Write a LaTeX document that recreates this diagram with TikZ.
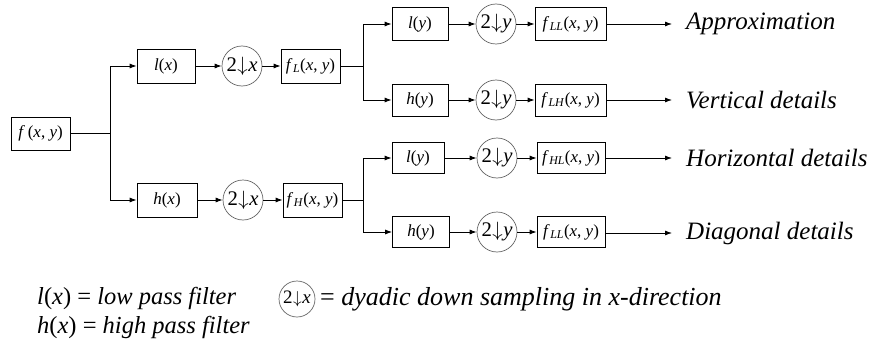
\documentclass[tikz,border=0pt]{standalone}
\usepackage{fontspec}
\setmainfont{Liberation Serif}
\usetikzlibrary{arrows.meta}
\newcommand\iv[1]{\textit{#1}}
\newcommand\fsub[1]{\iv{f}\kern0.5pt\textsubscript{\iv{#1}}(\iv{x}, \iv{y})}
\newcommand\dsx{2\kern0.5pt$\downarrow$\kern0.5pt\iv{x}}
\newcommand\dsy{2\kern0.5pt$\downarrow$\kern0.5pt\iv{y}}
\begin{document}
\begin{tikzpicture}[x=1pt,y=-1pt,
 box/.style={draw, line width=0.8pt, minimum height=33pt, inner sep=0pt, font=\fontsize{17}{19}\selectfont},
 dsamp/.style={circle, draw=black!60, line width=0.7pt, minimum size=40pt, inner sep=0pt, font=\fontsize{20.74}{22}\selectfont},
 conn/.style={line width=0.8pt, -{Latex[length=7pt,width=5pt]}},
 wire/.style={line width=0.8pt},
 lbl/.style={anchor=west, inner sep=0pt, font=\fontsize{25}{28}\selectfont\itshape},
 leg/.style={anchor=west, inner sep=0pt, font=\fontsize{24.5}{27}\selectfont},
]
\useasboundingbox (0,0) rectangle (869,353);
% stage 1
\node[box, minimum width=59pt] (fxy) at (40.5,133.5) {\iv{f}\,(\iv{x}, \iv{y})};
\node[box, minimum width=58pt, minimum height=34pt] (lx) at (166,66) {\iv{l}(\iv{x})};
\node[box, minimum width=60pt, minimum height=34pt] (hx) at (167,200) {\iv{h}(\iv{x})};
\node[dsamp] (cx1) at (242,66) {\dsx};
\node[dsamp] (cx2) at (243,200) {\dsx};
\node[box, minimum width=59pt, minimum height=34pt] (fL) at (310.5,66) {\fsub{L}};
\node[box, minimum width=59pt, minimum height=34pt] (fH) at (312.5,200) {\fsub{H}};
\coordinate (b0) at (110,133.5);
\draw[wire] (fxy.east) -- (b0);
\draw[conn] (b0) |- (lx.west);
\draw[conn] (b0) |- (hx.west);
\draw[conn] (lx) -- (cx1);
\draw[conn] (cx1) -- (fL);
\draw[conn] (hx) -- (cx2);
\draw[conn] (cx2) -- (fH);
% upper stage 2
\coordinate (b1) at (363,66);
\node[box, minimum width=56pt] (ly1) at (420,24) {\iv{l}(\iv{y})};
\node[box, minimum width=56pt, minimum height=32pt] (hy1) at (420,100) {\iv{h}(\iv{y})};
\node[dsamp] (cy1) at (496,24) {\dsy};
\node[dsamp] (cy2) at (496,100) {\dsy};
\node[box, minimum width=71pt] (fLL) at (570.5,24) {\fsub{LL}};
\node[box, minimum width=71pt, minimum height=32pt] (fLH) at (570.5,100) {\fsub{LH}};
\draw[wire] (fL.east) -- (b1);
\draw[conn] (b1) |- (ly1.west);
\draw[conn] (b1) |- (hy1.west);
\draw[conn] (ly1) -- (cy1);
\draw[conn] (cy1) -- (fLL);
\draw[conn] (hy1) -- (cy2);
\draw[conn] (cy2) -- (fLH);
% lower stage 2
\coordinate (b2) at (363,200);
\node[box, minimum width=52pt, minimum height=31pt] (ly2) at (418,158) {\iv{l}(\iv{y})};
\node[box, minimum width=57pt, minimum height=31pt] (hy2) at (421,232) {\iv{h}(\iv{y})};
\node[dsamp] (cy3) at (497,158) {\dsy};
\node[dsamp] (cy4) at (497,232) {\dsy};
\node[box, minimum width=68pt, minimum height=31pt] (fHL) at (571,158) {\fsub{HL}};
\node[box, minimum width=68pt, minimum height=31pt] (fLL2) at (571,232) {\fsub{LL}};
\draw[wire] (fH.east) -- (b2);
\draw[conn] (b2) |- (ly2.west);
\draw[conn] (b2) |- (hy2.west);
\draw[conn] (ly2) -- (cy3);
\draw[conn] (cy3) -- (fHL);
\draw[conn] (hy2) -- (cy4);
\draw[conn] (cy4) -- (fLL2);
% outputs
\coordinate (o1) at (672,24);
\coordinate (o2) at (672,100);
\coordinate (o3) at (672,158);
\coordinate (o4) at (672,233);
\draw[conn] (fLL.east) -- (o1);
\draw[conn] (fLH.east) -- (o2);
\draw[conn] (fHL.east) -- (o3);
\draw[conn] (fLL2.east) ++(0,1) -- (o4);
\node[lbl] (t1) at (686,24) {Approximation};
\node[lbl] (t2) at (686,100) {Vertical details};
\node[lbl] (t3) at (686,158) {Horizontal details};
\node[lbl] (t4) at (686,233) {Diagonal details};
% legend
\node[leg] (lg1) at (37,298) {\iv{l}(\iv{x}) = \textit{low pass filter}};
\node[leg] (lg2) at (37,327) {\iv{h}(\iv{x}) = \textit{high pass filter}};
\node[dsamp, minimum size=36pt, font=\fontsize{19}{20}\selectfont] (lgc) at (297,299) {\dsx};
\node[leg, font=\fontsize{26}{29}\selectfont] (lg3) at (320,299) {= \textit{dyadic down sampling in x-direction}};
\end{tikzpicture}
\end{document}
